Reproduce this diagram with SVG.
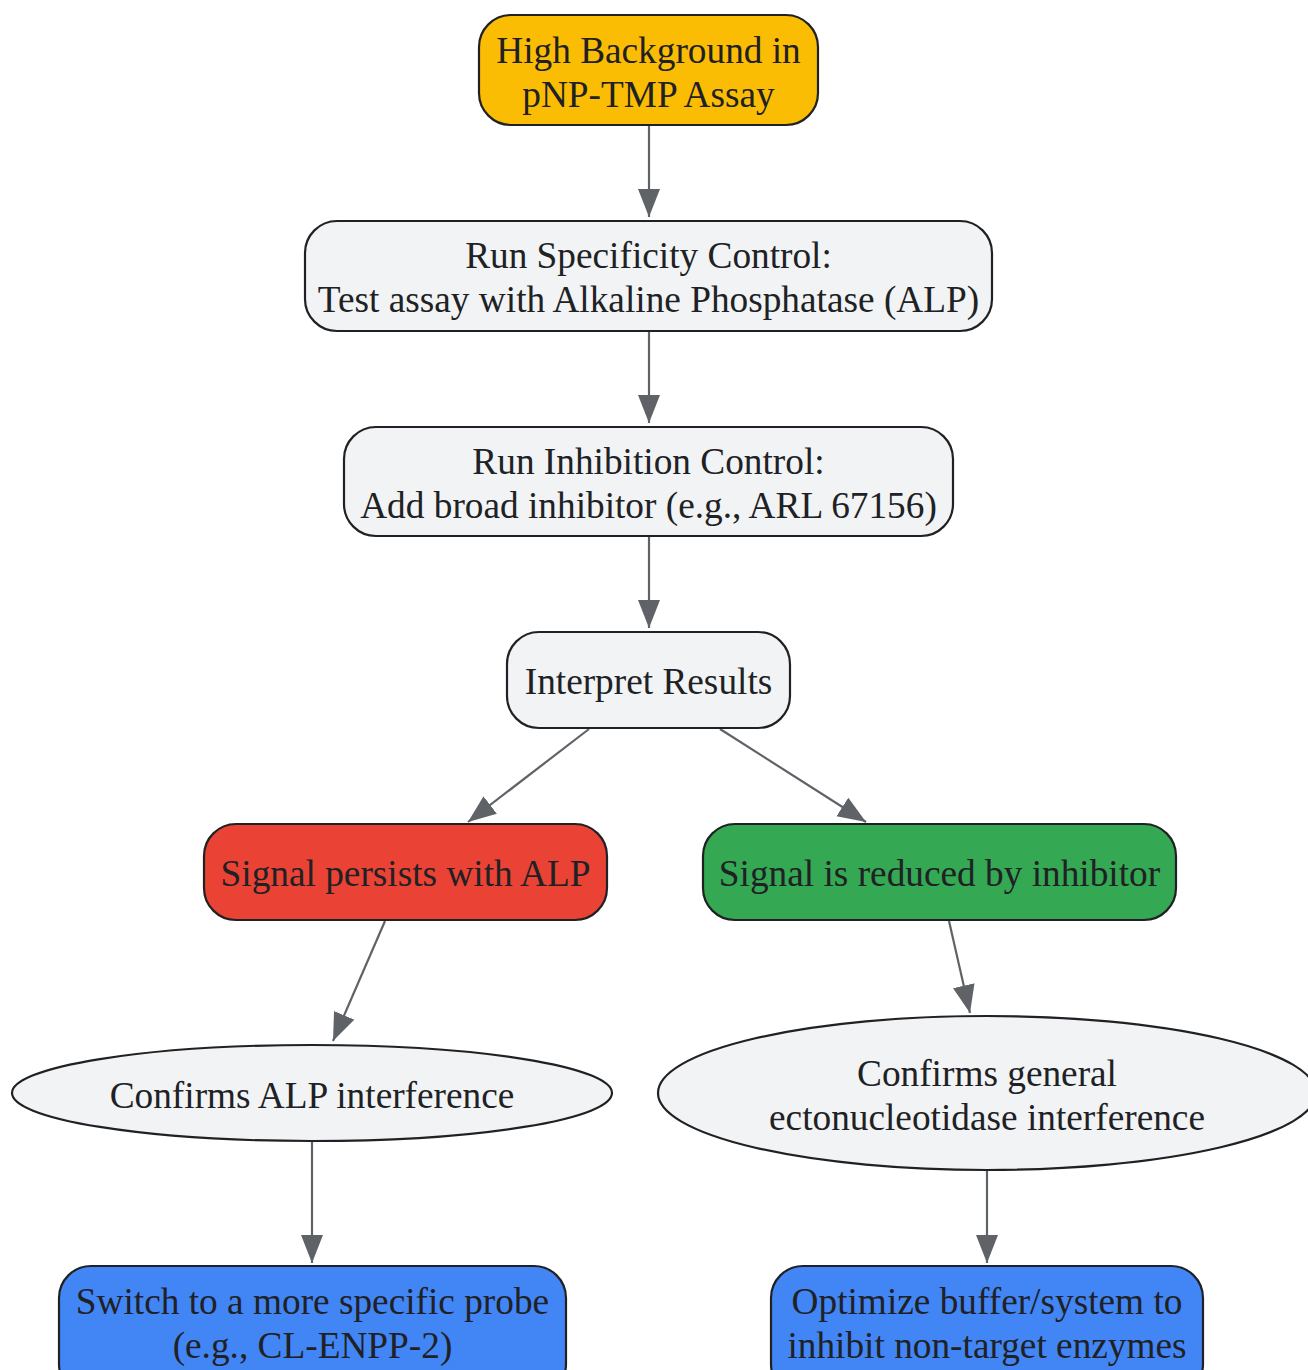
<svg xmlns="http://www.w3.org/2000/svg" width="1308" height="1370" viewBox="0 0 1308 1370">
<defs>
<marker id="arr" markerUnits="userSpaceOnUse" markerWidth="30" markerHeight="24" refX="28" refY="11" orient="auto">
<path d="M0,0 L28,11 L0,22 Z" fill="#5F6368"/>
</marker>
<style>
.n{stroke:#202124;stroke-width:2.2}
.g{fill:#F1F3F4}
.t{font-family:"Liberation Serif","Times New Roman",serif;font-size:37.3px;fill:#202124;text-anchor:middle;dominant-baseline:central}
.e{stroke:#5F6368;stroke-width:2.2;fill:none;marker-end:url(#arr)}
</style>
</defs>
<rect width="1308" height="1370" fill="#FFFFFF"/>
<g id="edges">
<line class="e" x1="649" y1="126" x2="649" y2="217"/>
<line class="e" x1="649" y1="332" x2="649" y2="423"/>
<line class="e" x1="649" y1="537" x2="649" y2="628"/>
<line class="e" x1="589" y1="729" x2="468" y2="822"/>
<line class="e" x1="720" y1="729" x2="866" y2="822"/>
<line class="e" x1="385" y1="921" x2="333" y2="1041"/>
<line class="e" x1="949" y1="921" x2="970" y2="1013"/>
<line class="e" x1="312" y1="1142" x2="312" y2="1263"/>
<line class="e" x1="987" y1="1171" x2="987" y2="1263"/>
</g>
<g id="n1">
<rect class="n" x="479" y="15" width="339" height="110" rx="32" fill="#FBBC04"/>
<text class="t" x="648.5" y="50">High Background in</text>
<text class="t" x="648.5" y="94">pNP-TMP Assay</text>
</g>
<g id="n2">
<rect class="n g" x="305" y="221" width="687" height="110" rx="32"/>
<text class="t" x="648.5" y="255">Run Specificity Control:</text>
<text class="t" x="648.5" y="299">Test assay with Alkaline Phosphatase (ALP)</text>
</g>
<g id="n3">
<rect class="n g" x="344" y="427" width="609" height="109" rx="32"/>
<text class="t" x="648.5" y="461">Run Inhibition Control:</text>
<text class="t" x="648.5" y="505">Add broad inhibitor (e.g., ARL 67156)</text>
</g>
<g id="n4">
<rect class="n g" x="507" y="632" width="283" height="96" rx="32"/>
<text class="t" x="648.5" y="681">Interpret Results</text>
</g>
<g id="n5">
<rect class="n" x="204" y="824" width="403" height="96" rx="32" fill="#EA4335"/>
<text class="t" x="405.5" y="873">Signal persists with ALP</text>
</g>
<g id="n6">
<rect class="n" x="703" y="824" width="473" height="96" rx="32" fill="#34A853"/>
<text class="t" x="939.5" y="873">Signal is reduced by inhibitor</text>
</g>
<g id="n7">
<ellipse class="n g" cx="312" cy="1093" rx="300" ry="48"/>
<text class="t" x="312" y="1095">Confirms ALP interference</text>
</g>
<g id="n8">
<ellipse class="n g" cx="987" cy="1093" rx="329" ry="77"/>
<text class="t" x="987" y="1073">Confirms general</text>
<text class="t" x="987" y="1117">ectonucleotidase interference</text>
</g>
<g id="n9">
<rect class="n" x="59" y="1266" width="507" height="130" rx="32" fill="#4285F4"/>
<text class="t" x="312.5" y="1301">Switch to a more specific probe</text>
<text class="t" x="312.5" y="1345">(e.g., CL-ENPP-2)</text>
</g>
<g id="n10">
<rect class="n" x="771" y="1266" width="432" height="130" rx="32" fill="#4285F4"/>
<text class="t" x="987" y="1301">Optimize buffer/system to</text>
<text class="t" x="987" y="1345">inhibit non-target enzymes</text>
</g>
</svg>
